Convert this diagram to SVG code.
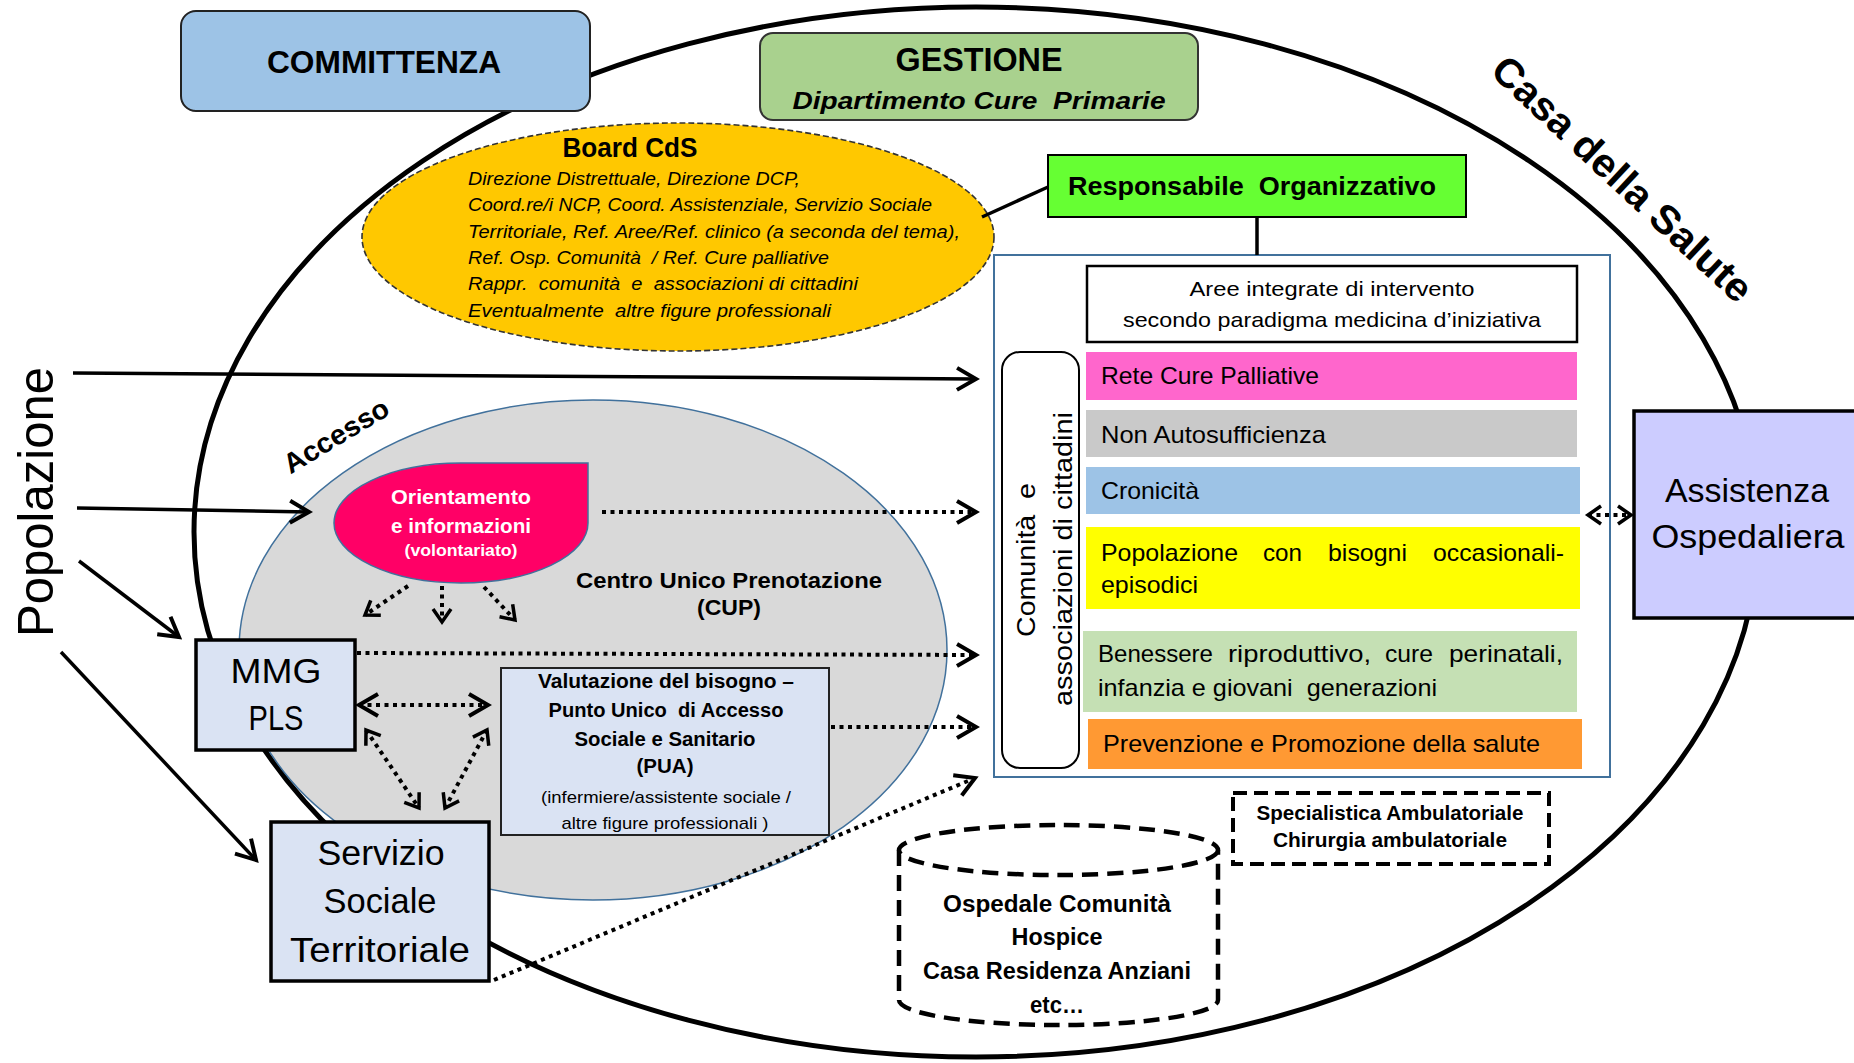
<svg xmlns="http://www.w3.org/2000/svg" width="1854" height="1063" viewBox="0 0 1854 1063">
<style>
text { font-family: "Liberation Sans", Arial, sans-serif; white-space: pre; fill: #000; }
.b { font-weight: bold; }
.i { font-style: italic; }
.m { text-anchor: middle; }
.sol { fill: none; stroke: #000; stroke-width: 3.5; }
.dot { fill: none; stroke: #000; stroke-width: 4; stroke-dasharray: 4 4.5; }
.box { stroke: #000; stroke-width: 3.5; }
.bar { stroke: none; }
</style>
<defs>
<marker id="ah" viewBox="-24 -14 28 28" refX="0" refY="0" markerWidth="28" markerHeight="28" markerUnits="userSpaceOnUse" orient="auto-start-reverse">
<path d="M-19,-11 L0,0 L-19,11" fill="none" stroke="#000" stroke-width="4"/>
</marker>
<marker id="ahs" viewBox="-18 -12 22 24" refX="0" refY="0" markerWidth="22" markerHeight="24" markerUnits="userSpaceOnUse" orient="auto-start-reverse">
<path d="M-13,-9 L0,0 L-13,9" fill="none" stroke="#000" stroke-width="3.5"/>
</marker>
</defs>
<rect width="1854" height="1063" fill="#fff"/>

<g id="casa-della-salute">
<ellipse cx="976" cy="532" rx="782" ry="525" fill="none" stroke="#000" stroke-width="5"/>
</g>

<g id="committenza">
<rect x="181" y="11" width="409" height="100" rx="15" fill="#9DC3E6" stroke="#222" stroke-width="2"/>
<text class="b m" x="384" y="73" font-size="32" textLength="234" lengthAdjust="spacingAndGlyphs">COMMITTENZA</text>
</g>

<g id="gestione">
<rect x="760" y="33" width="438" height="87" rx="13" fill="#A9D18E" stroke="#333" stroke-width="2"/>
<text class="b m" x="979" y="71" font-size="33" textLength="167" lengthAdjust="spacingAndGlyphs">GESTIONE</text>
<text class="b i m" x="979" y="109" font-size="24" textLength="373" lengthAdjust="spacingAndGlyphs">Dipartimento Cure  Primarie</text>
</g>

<g id="board-cds">
<ellipse cx="678" cy="237" rx="316" ry="114" fill="#FFC800" stroke="#333" stroke-width="1.6" stroke-dasharray="6 3"/>
<text class="b m" x="630" y="157" font-size="27" textLength="135" lengthAdjust="spacingAndGlyphs">Board CdS</text>
<text class="i" x="468" y="185" font-size="19" textLength="332" lengthAdjust="spacingAndGlyphs">Direzione Distrettuale, Direzione DCP,</text>
<text class="i" x="468" y="211" font-size="19" textLength="464" lengthAdjust="spacingAndGlyphs">Coord.re/i NCP, Coord. Assistenziale, Servizio Sociale</text>
<text class="i" x="468" y="238" font-size="19" textLength="492" lengthAdjust="spacingAndGlyphs">Territoriale, Ref. Aree/Ref. clinico (a seconda del tema),</text>
<text class="i" x="468" y="264" font-size="19" textLength="361" lengthAdjust="spacingAndGlyphs">Ref. Osp. Comunità  / Ref. Cure palliative</text>
<text class="i" x="468" y="290" font-size="19" textLength="390" lengthAdjust="spacingAndGlyphs">Rappr.  comunità  e  associazioni di cittadini</text>
<text class="i" x="468" y="317" font-size="19" textLength="363" lengthAdjust="spacingAndGlyphs">Eventualmente  altre figure professionali</text>
</g>

<g id="responsabile">
<rect x="1048" y="155" width="418" height="62" fill="#66FF33" stroke="#000" stroke-width="2"/>
<text class="b m" x="1252" y="195" font-size="25" textLength="368" lengthAdjust="spacingAndGlyphs">Responsabile  Organizzativo</text>
</g>

<g id="aree-integrate">
<rect x="994" y="255" width="616" height="522" fill="#fff" stroke="#41719C" stroke-width="2"/>
<rect x="1087" y="266" width="490" height="76" fill="#fff" stroke="#000" stroke-width="2.5"/>
<text class="m" x="1332" y="296" font-size="21" textLength="285" lengthAdjust="spacingAndGlyphs">Aree integrate di intervento</text>
<text class="m" x="1332" y="327" font-size="21" textLength="418" lengthAdjust="spacingAndGlyphs">secondo paradigma medicina d’iniziativa</text>
</g>

<g id="comunita">
<rect x="1002" y="352" width="77" height="416" rx="18" fill="#fff" stroke="#000" stroke-width="2"/>
<text class="m" transform="translate(1035,560) rotate(-90)" font-size="26" textLength="154" lengthAdjust="spacingAndGlyphs">Comunità  e</text>
<text class="m" transform="translate(1072,559) rotate(-90)" font-size="26" textLength="294" lengthAdjust="spacingAndGlyphs">associazioni di cittadini</text>
</g>

<g id="rete-cure-palliative">
<rect class="bar" x="1086" y="352" width="491" height="48" fill="#FF66CC"/>
<text x="1101" y="384" font-size="24" textLength="218" lengthAdjust="spacingAndGlyphs">Rete Cure Palliative</text>
</g>
<g id="non-autosufficienza">
<rect class="bar" x="1086" y="410" width="491" height="47" fill="#C9C9C9"/>
<text x="1101" y="443" font-size="24" textLength="225" lengthAdjust="spacingAndGlyphs">Non Autosufficienza</text>
</g>
<g id="cronicita">
<rect class="bar" x="1086" y="467" width="494" height="47" fill="#9DC3E6"/>
<text x="1101" y="499" font-size="24" textLength="98" lengthAdjust="spacingAndGlyphs">Cronicità</text>
</g>
<g id="popolazione-bisogni">
<rect class="bar" x="1086" y="527" width="494" height="82" fill="#FFFF00"/>
<text x="1101" y="561" font-size="24" textLength="137" lengthAdjust="spacingAndGlyphs">Popolazione</text>
<text x="1263" y="561" font-size="24" textLength="39" lengthAdjust="spacingAndGlyphs">con</text>
<text x="1328" y="561" font-size="24" textLength="79" lengthAdjust="spacingAndGlyphs">bisogni</text>
<text x="1433" y="561" font-size="24" textLength="131" lengthAdjust="spacingAndGlyphs">occasionali-</text>
<text x="1101" y="593" font-size="24" textLength="97" lengthAdjust="spacingAndGlyphs">episodici</text>
</g>
<g id="benessere">
<rect class="bar" x="1083" y="631" width="494" height="81" fill="#C5E0B4"/>
<text x="1098" y="662" font-size="24" textLength="115" lengthAdjust="spacingAndGlyphs">Benessere</text>
<text x="1228" y="662" font-size="24" textLength="143" lengthAdjust="spacingAndGlyphs">riproduttivo,</text>
<text x="1385" y="662" font-size="24" textLength="48" lengthAdjust="spacingAndGlyphs">cure</text>
<text x="1449" y="662" font-size="24" textLength="114" lengthAdjust="spacingAndGlyphs">perinatali,</text>
<text x="1098" y="696" font-size="24" textLength="339" lengthAdjust="spacingAndGlyphs">infanzia e giovani  generazioni</text>
</g>
<g id="prevenzione">
<rect class="bar" x="1088" y="719" width="494" height="50" fill="#FF9933"/>
<text x="1103" y="752" font-size="24" textLength="437" lengthAdjust="spacingAndGlyphs">Prevenzione e Promozione della salute</text>
</g>

<g id="accesso">
<ellipse cx="593" cy="650" rx="354" ry="250" fill="#D9D9D9" stroke="#41719C" stroke-width="1.5"/>
</g>

<g id="orientamento">
<path d="M461,463 L588,463 L588,523 A127,60 0 0 1 461,583 A127,60 0 0 1 334,523 A127,60 0 0 1 461,463 Z" fill="#FF0066" stroke="#41719C" stroke-width="1.5"/>
<text class="b m" x="461" y="504" font-size="20" fill="#fff" style="fill:#fff" textLength="140" lengthAdjust="spacingAndGlyphs">Orientamento</text>
<text class="b m" x="461" y="533" font-size="20" style="fill:#fff" textLength="140" lengthAdjust="spacingAndGlyphs">e informazioni</text>
<text class="b m" x="461" y="556" font-size="16" style="fill:#fff" textLength="113" lengthAdjust="spacingAndGlyphs">(volontariato)</text>
</g>

<g id="cup">
<text class="b m" x="729" y="588" font-size="22" textLength="306" lengthAdjust="spacingAndGlyphs">Centro Unico Prenotazione</text>
<text class="b m" x="729" y="615" font-size="22" textLength="64" lengthAdjust="spacingAndGlyphs">(CUP)</text>
</g>

<g id="connectors">
<line class="sol" x1="73" y1="373" x2="976" y2="379" marker-end="url(#ah)"/>
<line class="sol" x1="77" y1="508" x2="309" y2="512" marker-end="url(#ah)"/>
<line class="sol" x1="79" y1="561" x2="179" y2="637" marker-end="url(#ah)"/>
<line class="sol" x1="61" y1="652" x2="256" y2="860" marker-end="url(#ah)"/>
<line class="sol" x1="982" y1="217" x2="1048" y2="187" stroke-width="4"/>
<line class="sol" x1="1257" y1="217" x2="1257" y2="255" stroke-width="4"/>
<line class="dot" x1="602" y1="512" x2="976" y2="512" marker-end="url(#ah)"/>
<line class="dot" x1="357" y1="653" x2="976" y2="655" marker-end="url(#ah)"/>
<line class="dot" x1="831" y1="727" x2="976" y2="727" marker-end="url(#ah)"/>
<line class="dot" x1="494" y1="980" x2="975" y2="778" marker-end="url(#ah)"/>
<line class="dot" x1="408" y1="586" x2="365" y2="615" marker-end="url(#ahs)"/>
<line class="dot" x1="442" y1="586" x2="442" y2="622" marker-end="url(#ahs)"/>
<line class="dot" x1="484" y1="587" x2="515" y2="620" marker-end="url(#ahs)"/>
<line class="dot" x1="359" y1="705" x2="488" y2="705" marker-start="url(#ah)" marker-end="url(#ah)"/>
<line class="dot" x1="366" y1="730" x2="419" y2="808" marker-start="url(#ahs)" marker-end="url(#ahs)"/>
<line class="dot" x1="487" y1="730" x2="445" y2="808" marker-start="url(#ahs)" marker-end="url(#ahs)"/>
<line class="dot" x1="1588" y1="515" x2="1631" y2="515" marker-start="url(#ahs)" marker-end="url(#ahs)"/>
</g>

<g id="mmg-pls">
<rect class="box" x="196" y="640" width="159" height="110" fill="#DAE3F3"/>
<text class="m" x="276" y="683" font-size="35" textLength="91" lengthAdjust="spacingAndGlyphs">MMG</text>
<text class="m" x="276" y="730" font-size="35" textLength="55" lengthAdjust="spacingAndGlyphs">PLS</text>
</g>

<g id="pua">
<rect x="501" y="668" width="328" height="167" fill="#DAE3F3" stroke="#222" stroke-width="2"/>
<text class="b m" x="666" y="688" font-size="20" textLength="256" lengthAdjust="spacingAndGlyphs">Valutazione del bisogno –</text>
<text class="b m" x="666" y="717" font-size="20" textLength="235" lengthAdjust="spacingAndGlyphs">Punto Unico  di Accesso</text>
<text class="b m" x="665" y="746" font-size="20" textLength="181" lengthAdjust="spacingAndGlyphs">Sociale e Sanitario</text>
<text class="b m" x="665" y="773" font-size="20" textLength="57" lengthAdjust="spacingAndGlyphs">(PUA)</text>
<text class="m" x="666" y="803" font-size="17" textLength="250" lengthAdjust="spacingAndGlyphs">(infermiere/assistente sociale /</text>
<text class="m" x="665" y="829" font-size="17" textLength="207" lengthAdjust="spacingAndGlyphs">altre figure professionali )</text>
</g>

<g id="servizio-sociale">
<rect class="box" x="271" y="822" width="218" height="159" fill="#DAE3F3"/>
<text class="m" x="381" y="865" font-size="35" textLength="127" lengthAdjust="spacingAndGlyphs">Servizio</text>
<text class="m" x="380" y="913" font-size="35" textLength="113" lengthAdjust="spacingAndGlyphs">Sociale</text>
<text class="m" x="380" y="962" font-size="35" textLength="180" lengthAdjust="spacingAndGlyphs">Territoriale</text>
</g>

<g id="assistenza-ospedaliera">
<rect class="box" x="1634" y="411" width="230" height="207" fill="#CCCCFF"/>
<text class="m" x="1747" y="502" font-size="33" textLength="164" lengthAdjust="spacingAndGlyphs">Assistenza</text>
<text class="m" x="1748" y="548" font-size="33" textLength="193" lengthAdjust="spacingAndGlyphs">Ospedaliera</text>
</g>

<g id="strutture-intermedie">
<path d="M899,850 L899,1000 A159.5,25 0 0 0 1218,1000 L1218,850 Z" fill="#fff" stroke="none"/>
<path d="M899,850 L899,1000 A159.5,25 0 0 0 1218,1000 L1218,850" fill="none" stroke="#000" stroke-width="4.5" stroke-dasharray="16 9"/>
<ellipse cx="1058.5" cy="850" rx="159.5" ry="25" fill="#fff" stroke="#000" stroke-width="4.5" stroke-dasharray="16 9"/>
<text class="b m" x="1057" y="912" font-size="23" textLength="228" lengthAdjust="spacingAndGlyphs">Ospedale Comunità</text>
<text class="b m" x="1057" y="945" font-size="23" textLength="91" lengthAdjust="spacingAndGlyphs">Hospice</text>
<text class="b m" x="1057" y="979" font-size="23" textLength="268" lengthAdjust="spacingAndGlyphs">Casa Residenza Anziani</text>
<text class="b m" x="1057" y="1013" font-size="23" textLength="54" lengthAdjust="spacingAndGlyphs">etc…</text>
</g>

<g id="specialistica">
<rect x="1233" y="793" width="316" height="71" fill="#fff" stroke="#000" stroke-width="4" stroke-dasharray="14 7"/>
<text class="b m" x="1390" y="820" font-size="20" textLength="267" lengthAdjust="spacingAndGlyphs">Specialistica Ambulatoriale</text>
<text class="b m" x="1390" y="847" font-size="20" textLength="234" lengthAdjust="spacingAndGlyphs">Chirurgia ambulatoriale</text>
</g>

<g id="labels">
<text class="m" transform="translate(53,502) rotate(-90)" font-size="50" textLength="270" lengthAdjust="spacingAndGlyphs">Popolazione</text>
<text class="b m" transform="translate(1613,189) rotate(43)" font-size="40" textLength="340" lengthAdjust="spacingAndGlyphs">Casa della Salute</text>
<text class="b m" transform="translate(341,444) rotate(-31)" font-size="28" textLength="118" lengthAdjust="spacingAndGlyphs">Accesso</text>
</g>
</svg>
